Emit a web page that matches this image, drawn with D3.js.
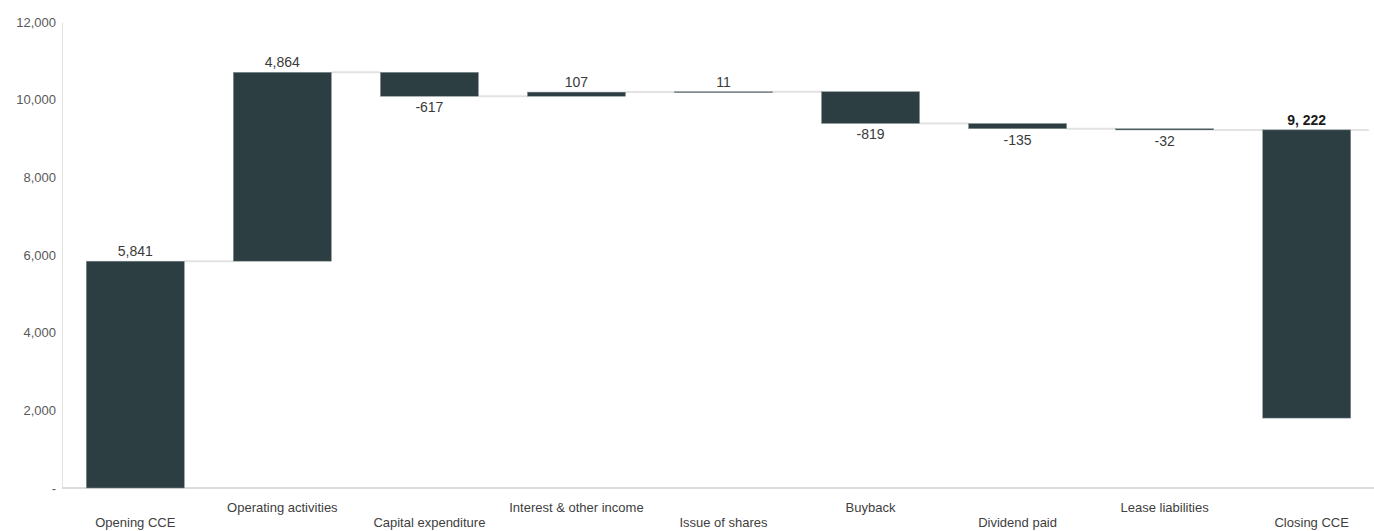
<!DOCTYPE html>
<html>
<head>
<meta charset="utf-8">
<script src="https://cdn.jsdelivr.net/npm/d3@7"></script>
<style>
  body { margin: 0; background: #fff; }
  text { font-family: "Liberation Sans", Arial, sans-serif; }
</style>
</head>
<body>
<div id="chart"></div>
<script>
const categories = ["Opening CCE", "Operating activities", "Capital expenditure", "Interest & other income",
  "Issue of shares", "Buyback", "Dividend paid", "Lease liabilities", "Closing CCE"];
const changes = [5841, 4864, -617, 107, 11, -819, -135, -32, 9222];
const valueLabels = ["5,841", "4,864", "-617", "107", "11", "-819", "-135", "-32", "9, 222"];
const closingBase = 1800; // closing bar does not start at zero in the source
const yTicks = [0, 2000, 4000, 6000, 8000, 10000, 12000];

const width = 1374, height = 531;
const margin = {top: 22, right: 0, bottom: 43, left: 62};

const svg = d3.select("#chart").append("svg")
  .attr("width", width)
  .attr("height", height);

// build waterfall steps
let running = 0;
const steps = categories.map((c, i) => {
  let start, end;
  if (i === 0) { start = 0; end = changes[i]; }
  else if (i === categories.length - 1) { start = closingBase; end = changes[i]; }
  else { start = running; end = running + changes[i]; }
  running = end;
  return {cat: c, start: start, end: end, value: changes[i], label: valueLabels[i], i: i};
});

const x = d3.scaleBand()
  .domain(categories)
  .range([margin.left, margin.left + 9 * 147])
  .paddingInner(0.333)
  .paddingOuter(0.165);

const y = d3.scaleLinear()
  .domain([0, 12000])
  .range([height - margin.bottom, margin.top]);

// y axis
const yAxis = svg.append("g")
  .attr("transform", `translate(${margin.left},0)`)
  .call(d3.axisLeft(y).tickValues(yTicks).tickSize(0).tickPadding(6)
    .tickFormat(d => d === 0 ? "-" : d3.format(",")(d)));
yAxis.select(".domain").attr("stroke", "#e3e3e3").attr("stroke-width", 1);
yAxis.selectAll("text").attr("fill", "#595959").attr("font-size", 13);

// x axis line
svg.append("line")
  .attr("x1", margin.left).attr("x2", width)
  .attr("y1", y(0)).attr("y2", y(0))
  .attr("stroke", "#dcdcdc").attr("stroke-width", 2);

// connectors
svg.selectAll(".connector")
  .data(steps.slice(0, -1))
  .enter().append("line")
  .attr("class", "connector")
  .attr("x1", d => x(d.cat) + x.bandwidth())
  .attr("x2", d => x(categories[d.i + 1]) + (d.i + 1 === categories.length - 1 ? x.bandwidth() + 8 : 0))
  .attr("y1", d => y(d.end))
  .attr("y2", d => y(d.end))
  .attr("stroke", "#e2e2e2")
  .attr("stroke-width", 2);

// bars
svg.selectAll(".bar")
  .data(steps)
  .enter().append("rect")
  .attr("class", "bar")
  .attr("x", d => x(d.cat))
  .attr("width", d => d.i === categories.length - 1 ? x.bandwidth() - 10 : x.bandwidth())
  .attr("y", d => y(Math.max(d.start, d.end)))
  .attr("height", d => Math.max(1, Math.abs(y(d.start) - y(d.end))))
  .attr("fill", "#2c3e41")
  .attr("stroke", "#8a9597")
  .attr("stroke-width", 0.5);

// value labels
svg.selectAll(".vlabel")
  .data(steps)
  .enter().append("text")
  .attr("class", "vlabel")
  .attr("x", d => x(d.cat) + (d.i === categories.length - 1 ? x.bandwidth() - 10 : x.bandwidth()) / 2)
  .attr("y", d => d.value < 0 ? y(d.end) + 16 : y(Math.max(d.start, d.end)) - 5)
  .attr("text-anchor", "middle")
  .attr("font-size", 14)
  .attr("font-weight", d => d.i === categories.length - 1 ? "bold" : "normal")
  .attr("fill", d => d.i === categories.length - 1 ? "#1a1a1a" : "#3a3a3a")
  .text(d => d.label);

// category labels, staggered
svg.selectAll(".clabel")
  .data(steps)
  .enter().append("text")
  .attr("class", "clabel")
  .attr("x", d => x(d.cat) + x.bandwidth() / 2)
  .attr("y", d => d.i % 2 === 0 ? 527 : 512)
  .attr("text-anchor", "middle")
  .attr("font-size", 13)
  .attr("fill", "#404040")
  .text(d => d.cat);
</script>
</body>
</html>
